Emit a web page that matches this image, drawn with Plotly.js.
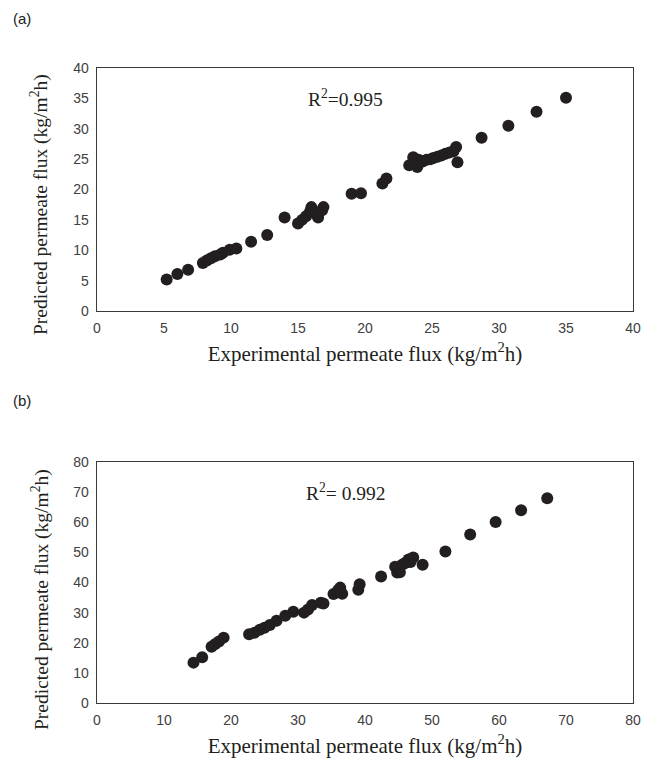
<!DOCTYPE html>
<html>
<head>
<meta charset="utf-8">
<script src="https://cdn.plot.ly/plotly-3.0.1.min.js"></script>
<style>html,body{margin:0;padding:0;background:#fff;}#chart{width:647px;height:765px;}</style>
</head>
<body>
<div id="chart"></div>
<script>
// Panel (a)
const expA = [5.2, 6.0, 6.8, 7.9, 8.2, 8.5, 8.8, 9.2, 9.4, 9.9, 10.4, 11.5, 12.7, 14.0, 15.0, 15.3, 15.6, 15.9, 16.0, 16.3, 16.5, 16.8, 16.9, 19.0, 19.7, 21.3, 21.6, 23.3, 23.6, 23.9, 24.0, 24.3, 24.6, 24.9, 25.1, 25.4, 25.7, 26.0, 26.3, 26.6, 26.8, 26.9, 28.7, 30.7, 32.8, 35.0];
const predA = [5.2, 6.1, 6.8, 7.9, 8.3, 8.7, 9.0, 9.3, 9.6, 10.1, 10.3, 11.4, 12.5, 15.4, 14.4, 15.0, 15.6, 16.4, 17.1, 16.0, 15.4, 16.6, 17.1, 19.3, 19.4, 21.0, 21.8, 24.0, 25.3, 23.7, 24.9, 24.6, 24.9, 25.0, 25.2, 25.4, 25.6, 25.9, 26.1, 26.3, 27.0, 24.5, 28.5, 30.5, 32.8, 35.1];
// Panel (b)
const expB = [14.4, 15.7, 17.1, 17.6, 18.2, 18.9, 22.7, 23.5, 24.3, 25.0, 25.8, 26.8, 28.1, 29.3, 30.9, 31.5, 32.1, 33.4, 33.8, 35.3, 36.0, 36.3, 36.6, 39.0, 39.2, 42.4, 44.5, 44.8, 45.0, 45.2, 45.6, 46.0, 46.5, 46.8, 47.2, 48.6, 52.0, 55.7, 59.5, 63.3, 67.2];
const predB = [13.4, 15.2, 18.7, 19.5, 20.4, 21.7, 22.8, 23.3, 24.3, 25.0, 25.9, 27.3, 29.0, 30.3, 30.0, 31.0, 32.5, 33.3, 33.0, 36.2, 37.5, 38.3, 36.3, 37.6, 39.4, 42.0, 45.2, 43.3, 44.6, 43.4, 46.0, 46.5, 47.6, 46.8, 48.3, 45.9, 50.3, 55.9, 60.1, 64.0, 68.0];

const panelLabels = ["(a)", "(b)"];
const r2Labels = ["R<sup>2</sup>=0.995", "R<sup>2</sup>= 0.992"];
const xTitle = "Experimental permeate flux (kg/m<sup>2</sup>h)";
const yTitle = "Predicted permeate flux (kg/m<sup>2</sup>h)";

const markerStyle = {size: 12, color: "#231f20"};
const traces = [
  {x: expA, y: predA, type: "scatter", mode: "markers", marker: markerStyle, xaxis: "x", yaxis: "y", hoverinfo: "x+y"},
  {x: expB, y: predB, type: "scatter", mode: "markers", marker: markerStyle, xaxis: "x2", yaxis: "y2", hoverinfo: "x+y"}
];

const tickFont = {family: "Liberation Sans, Arial, sans-serif", size: 14, color: "#404040"};
const serif = "Liberation Serif, Times New Roman, serif";
function axis(range, dtick, domain, anchor, title) {
  const a = {
    range: range, dtick: dtick, domain: domain, anchor: anchor,
    showgrid: false, zeroline: false, showline: true, mirror: true,
    linecolor: "#3a3a3a", linewidth: 1.3, ticks: "", tickfont: tickFont,
    ticklabelstandoff: 4,
    fixedrange: true, automargin: false
  };
  if (title) a.title = {text: title, font: {family: serif, size: 21, color: "#231f20"}, standoff: 11};
  return a;
}
const xd = [97/647, 633/647];
const yTitleFont = {family: serif, size: 19.5, color: "#231f20"};
const layout = {
  width: 647, height: 765,
  margin: {l: 0, r: 0, t: 0, b: 0},
  paper_bgcolor: "#fff", plot_bgcolor: "#fff",
  showlegend: false,
  xaxis: axis([0, 40], 5, xd, "y", xTitle),
  yaxis: axis([0, 40], 5, [454/765, 697/765], "x", null),
  xaxis2: axis([0, 80], 10, xd, "y2", xTitle),
  yaxis2: axis([0, 80], 10, [62/765, 303/765], "x2", null),
  annotations: [
    {text: panelLabels[0], xref: "paper", yref: "paper", x: 11/647, y: 1 - 18/765, xanchor: "left", yanchor: "middle", showarrow: false, font: {family: "Liberation Sans, Arial, sans-serif", size: 15, color: "#222"}},
    {text: panelLabels[1], xref: "paper", yref: "paper", x: 11/647, y: 1 - 400/765, xanchor: "left", yanchor: "middle", showarrow: false, font: {family: "Liberation Sans, Arial, sans-serif", size: 15, color: "#222"}},
    {text: yTitle, xref: "paper", yref: "paper", x: 40/647, y: 1 - 205/765, xanchor: "center", yanchor: "middle", textangle: -90, showarrow: false, font: yTitleFont},
    {text: yTitle, xref: "paper", yref: "paper", x: 40/647, y: 1 - 600/765, xanchor: "center", yanchor: "middle", textangle: -90, showarrow: false, font: yTitleFont},
    {text: r2Labels[0], xref: "x domain", yref: "y domain", x: 0.464, y: 0.876, xanchor: "center", yanchor: "middle", showarrow: false, font: {family: serif, size: 19.5, color: "#231f20"}},
    {text: r2Labels[1], xref: "x2 domain", yref: "y2 domain", x: 0.464, y: 0.876, xanchor: "center", yanchor: "middle", showarrow: false, font: {family: serif, size: 19.5, color: "#231f20"}}
  ]
};
Plotly.newPlot("chart", traces, layout, {displayModeBar: false, staticPlot: true});
</script>
</body>
</html>
